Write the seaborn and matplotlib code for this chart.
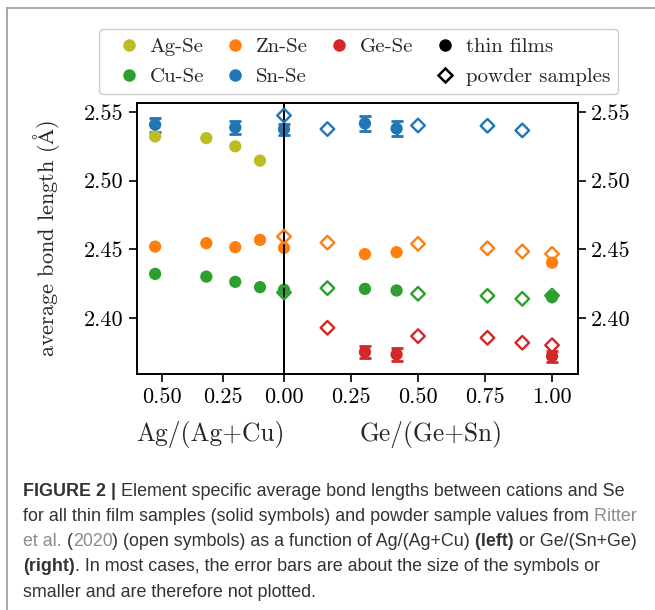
import numpy as np
import pandas as pd
import seaborn as sns
import matplotlib.pyplot as plt
from matplotlib.lines import Line2D
from matplotlib.text import Annotation

# left panel: x = Ag/(Ag+Cu), thin films
ag_frac = [0.526, 0.317, 0.199, 0.098, 0.0]
ag_se = [2.5322, 2.5310, 2.5250, 2.5146, np.nan]
cu_se_l = [2.4320, 2.4300, 2.4262, 2.4223, 2.4204]
zn_se_l = [2.4519, 2.4544, 2.4515, 2.4568, 2.4510]
sn_se_l = [2.5408, np.nan, 2.5388, np.nan, 2.5376]
sn_err_l = [0.0050, np.nan, 0.0045, np.nan, 0.0040]

# right panel: x = Ge/(Ge+Sn), thin films
ge_frac_film = [0.302, 0.420, 1.000]
sn_se_r = [2.5417, 2.5380, np.nan]
sn_err_r = [0.0055, 0.0055, np.nan]
zn_se_r = [2.4464, 2.4478, 2.4402]
cu_se_r = [2.4211, 2.4199, 2.4150]
ge_se_r = [2.3750, 2.3733, 2.3720]
ge_err_r = [0.0045, 0.0045, 0.0040]

# powder samples (Ritter et al. 2020)
ge_frac_powder = [0.0, 0.162, 0.500, 0.759, 0.889, 1.000]
sn_se_p = [2.5475, 2.5376, 2.5402, 2.5400, 2.5366, np.nan]
zn_se_p = [2.4592, 2.4548, 2.4539, 2.4507, 2.4483, 2.4466]
cu_se_p = [2.4184, 2.4216, 2.4175, 2.4160, 2.4138, 2.4162]
ge_se_p = [np.nan, 2.3927, 2.3866, 2.3854, 2.3818, 2.3800]

palette = {'Ag-Se': '#bcbd22', 'Cu-Se': '#2ca02c', 'Zn-Se': '#ff7f0e',
           'Sn-Se': '#1f77b4', 'Ge-Se': '#d62728'}


def to_long(frac, series, errs={}):
    rows = []
    for pair, vals in series.items():
        err = errs.get(pair, [np.nan] * len(frac))
        for x, v, e in zip(frac, vals, err):
            if not np.isnan(v):
                rows.append(dict(frac=x, length=v, err=e, pair=pair))
    return pd.DataFrame(rows)


films_l = to_long(ag_frac, {'Ag-Se': ag_se, 'Cu-Se': cu_se_l, 'Zn-Se': zn_se_l, 'Sn-Se': sn_se_l},
                  {'Sn-Se': sn_err_l})
films_r = to_long(ge_frac_film, {'Cu-Se': cu_se_r, 'Zn-Se': zn_se_r, 'Sn-Se': sn_se_r, 'Ge-Se': ge_se_r},
                  {'Sn-Se': sn_err_r, 'Ge-Se': ge_err_r})
powder_r = to_long(ge_frac_powder, {'Cu-Se': cu_se_p, 'Zn-Se': zn_se_p, 'Sn-Se': sn_se_p, 'Ge-Se': ge_se_p})

sns.set_style('ticks')
plt.rcParams['font.family'] = 'serif'
plt.rcParams['font.serif'] = ['cmr10']
plt.rcParams['mathtext.fontset'] = 'cm'
plt.rcParams['axes.unicode_minus'] = False
plt.rcParams['axes.linewidth'] = 1.4
plt.rcParams['axes.edgecolor'] = 'black'

fig = plt.figure(figsize=(6.55, 6.10), dpi=100)
bottom, top = 1 - 374 / 610, 1 - 103 / 610
x0, xm, x1 = 137 / 655, 284 / 655, 577.5 / 655
ax1 = fig.add_axes([x0, bottom, xm - x0, top - bottom])
ax2 = fig.add_axes([xm, bottom, x1 - xm, top - bottom], sharey=ax1)


def draw(ax, films, powders=None):
    errs = films.dropna(subset=['err'])
    for pair, g in errs.groupby('pair'):
        ax.errorbar(g['frac'], g['length'], yerr=g['err'], fmt='none', ecolor=palette[pair],
                    elinewidth=2, capsize=4.5, capthick=2, clip_on=False, zorder=2)
    sns.scatterplot(data=films, x='frac', y='length', hue='pair', palette=palette, marker='o',
                    s=78, linewidth=0, legend=False, ax=ax, clip_on=False, zorder=3)
    if powders is not None:
        sns.scatterplot(data=powders, x='frac', y='length', hue='pair', palette=palette, marker='D',
                        s=48, linewidth=1.7, legend=False, ax=ax, clip_on=False, zorder=3)
        coll = ax.collections[-1]
        coll.set_edgecolors(coll.get_facecolors())
        coll.set_facecolors('none')


draw(ax1, films_l)
draw(ax2, films_r, powder_r)

for ax in (ax1, ax2):
    ax.patch.set_visible(False)
    ax.tick_params(length=6, width=1.2, labelsize=16, color='black', labelcolor='black')

ax1.set_ylim(2.359, 2.5566)
ax1.set_yticks([2.40, 2.45, 2.50, 2.55])
ax1.set_yticklabels(['2.40', '2.45', '2.50', '2.55'])
ax1.set_xlim(0.6, 0.0)
ax1.set_xticks([0.5, 0.25, 0.0])
ax1.set_xticklabels(['0.50', '0.25', '0.00'])
ax1.tick_params(axis='y', left=True, right=False)
ax1.set_ylabel(r'average bond length ($\mathrm{\AA}$)', fontsize=16, labelpad=16)
ax1.set_xlabel('Ag/(Ag+Cu)', fontsize=18.3, labelpad=10)

ax2.set_xlim(0.0, 1.095)
ax2.set_xticks([0.25, 0.5, 0.75, 1.0])
ax2.set_xticklabels(['0.25', '0.50', '0.75', '1.00'])
ax2.yaxis.tick_right()
ax2.tick_params(axis='y', left=False, right=True, labelleft=False, labelright=True)
ax2.set_xlabel('Ge/(Ge+Sn)', fontsize=18.3, labelpad=10)
ax2.set_ylabel('')

handles = [Line2D([], [], ls='none', marker='o', ms=9, color=palette[p], mec='none')
           for p in ['Ag-Se', 'Cu-Se', 'Zn-Se', 'Sn-Se', 'Ge-Se']]
handles.append(Line2D([], [], ls='none', marker=''))
handles.append(Line2D([], [], ls='none', marker='o', ms=9, color='black', mec='none'))
handles.append(Line2D([], [], ls='none', marker='D', ms=7, mfc='none', mec='black', mew=1.8))
labels = ['Ag-Se', 'Cu-Se', 'Zn-Se', 'Sn-Se', 'Ge-Se', '', 'thin films', 'powder samples']
fig.legend(handles, labels, ncol=4, loc='center', bbox_to_anchor=(0.548, 0.899), fontsize=15,
           handlelength=2.0, handletextpad=0.0, columnspacing=0.5, borderpad=0.4,
           labelspacing=0.54, frameon=True, fancybox=True, edgecolor='0.8', framealpha=1)

# panel frame (left and top edge)
fig.add_artist(Line2D([7 / 655, 7 / 655], [0, 1 - 8 / 610], color='#9a9a9a', lw=1.2,
                      transform=fig.transFigure))
fig.add_artist(Line2D([7 / 655, 1], [1 - 8 / 610, 1 - 8 / 610], color='#9a9a9a', lw=1.2,
                      transform=fig.transFigure))

# caption, built piece by piece so bold / link parts keep their own style
ink, link = '#333333', '#8c8c8c'
caption = [
    [('FIGURE 2 |', 'bold', ink), (' Element specific average bond lengths between cations and Se', 'normal', ink)],
    [('for all thin film samples (solid symbols) and powder sample values from', 'normal', ink),
     (' Ritter', 'normal', link)],
    [('et al.', 'normal', link), (' (', 'normal', ink), ('2020', 'normal', link),
     (') (open symbols) as a function of Ag/(Ag+Cu)', 'normal', ink), (' (left)', 'bold', ink),
     (' or Ge/(Sn+Ge)', 'normal', ink)],
    [('(right)', 'bold', ink), ('. In most cases, the error bars are about the size of the symbols or', 'normal', ink)],
    [('smaller and are therefore not plotted.', 'normal', ink)],
]
for i, line in enumerate(caption):
    yb = 1 - (495.5 + 25.3 * i) / 610
    prev = None
    for txt, weight, col in line:
        if prev is None:
            ann = Annotation(txt, xy=(23 / 655, yb), xycoords='figure fraction')
        else:
            ann = Annotation(txt, xy=(1, yb), xycoords=(prev, 'figure fraction'))
        ann.set_fontfamily('Liberation Sans')
        ann.set_fontsize(12.9)
        ann.set_fontweight(weight)
        ann.set_color(col)
        ann.set_va('baseline')
        ann.set_ha('left')
        fig.add_artist(ann)
        prev = ann

fig.savefig('out.png', dpi=100)
